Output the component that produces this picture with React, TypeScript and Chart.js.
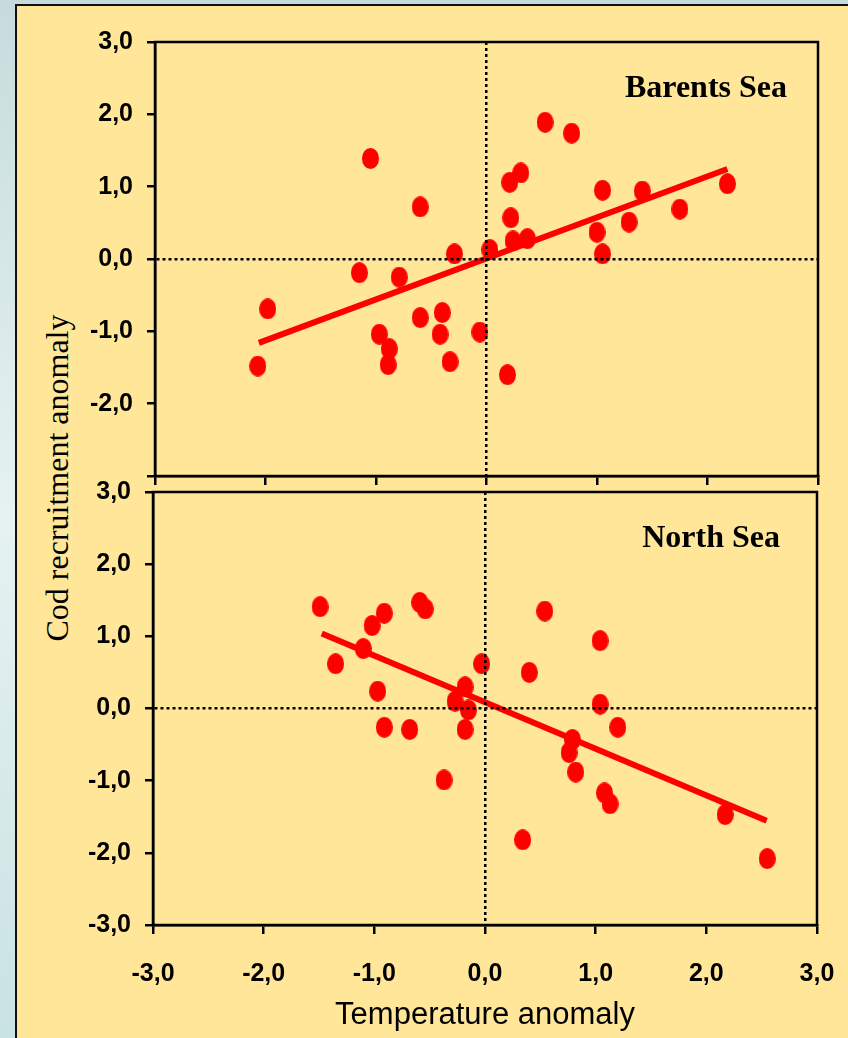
import React, { useEffect, useRef } from 'react';
import { Chart, registerables } from 'chart.js';

Chart.register(...registerables);

// Axis ticks shared by both panels (temperature and recruitment anomalies)
const tickValues = [-3, -2, -1, 0, 1, 2, 3];

// Barents Sea: temperature anomaly vs cod recruitment anomaly
const barentsTemp = [-2.07, -1.98, -1.05, -1.15, -0.79, -0.6, -0.97, -0.88, -0.89, -0.6, -0.4, -0.42, -0.33, -0.29, -0.06, 0.03, 0.19, 0.21, 0.31, 0.22, 0.24, 0.37, 0.53, 0.77, 1.05, 1.0, 1.05, 1.29, 1.41, 1.75, 2.18];
const barentsRecr = [-1.48, -0.69, 1.39, -0.19, -0.25, 0.72, -1.04, -1.24, -1.46, -0.81, -0.74, -1.04, -1.42, 0.07, -1.01, 0.13, -1.6, 1.06, 1.19, 0.57, 0.25, 0.28, 1.89, 1.74, 0.95, 0.37, 0.07, 0.51, 0.94, 0.69, 1.04];
const barentsFitTemp = [-2.06, 2.18];
const barentsFitRecr = [-1.16, 1.245];

// North Sea: temperature anomaly vs cod recruitment anomaly
const northTemp = [-1.49, -0.91, -1.02, -1.1, -1.35, -0.97, -0.59, -0.54, -0.03, -0.18, -0.27, -0.15, -0.91, -0.68, -0.18, -0.37, 0.54, 1.04, 0.4, 1.04, 1.2, 0.79, 0.76, 0.82, 1.08, 1.13, 0.34, 2.17, 2.55];
const northRecr = [1.41, 1.32, 1.15, 0.83, 0.62, 0.24, 1.47, 1.38, 0.62, 0.3, 0.1, -0.02, -0.26, -0.29, -0.29, -0.99, 1.35, 0.94, 0.5, 0.06, -0.26, -0.43, -0.61, -0.88, -1.17, -1.32, -1.82, -1.47, -2.08];
const northFitTemp = [-1.475, 2.545];
const northFitRecr = [1.04, -1.555];

const fmt = (v: number) => v.toFixed(1).replace('.', ',');

const AXIS_FONT = { family: '"Liberation Sans", Arial, sans-serif', size: 25, weight: 'bold' as const };
const RED = '#ff0000';

// Slightly tall oval marker used for every observation
function makeDot(color: string) {
  const c = document.createElement('canvas');
  c.width = 17;
  c.height = 21;
  const g = c.getContext('2d')!;
  g.fillStyle = color;
  g.beginPath();
  g.ellipse(8.5, 10.5, 8.5, 10.5, 0, 0, Math.PI * 2);
  g.fill();
  return c;
}

// Frame around the plot area plus the sea name in its upper right corner
const panelDecor = {
  id: 'panelDecor',
  afterDraw(chart: any, _args: any, opts: any) {
    const { ctx, chartArea: a } = chart;
    ctx.save();
    ctx.strokeStyle = '#000';
    ctx.lineWidth = 2.5;
    ctx.strokeRect(a.left, a.top, a.right - a.left, a.bottom - a.top);
    ctx.font = 'bold 32px "Liberation Serif", "Times New Roman", serif';
    ctx.fillStyle = '#000';
    ctx.textAlign = 'right';
    ctx.textBaseline = 'alphabetic';
    ctx.fillText(opts.text, a.right - opts.inset, a.top + opts.baseline);
    ctx.restore();
  },
};

interface PanelOpts {
  temps: number[];
  recr: number[];
  fitT: number[];
  fitR: number[];
  name: string;
  inset: number;
  padding: { left: number; right: number; top: number; bottom: number };
  yWidth: number;
  xHeight: number;
  xLabels: boolean;
  hideBottomY: boolean;
}

// keep the plot area exactly where layout.padding and the fixed axis sizes put it
const noLabelOverhang = (s: any) => {
  s.paddingLeft = 0;
  s.paddingRight = 0;
  s.paddingTop = 0;
  s.paddingBottom = 0;
};

function makeConfig(o: PanelOpts): any {
  const dot = makeDot(RED);
  const zeroColor = (ctx: any) => (ctx.tick && ctx.tick.value === 0 ? '#000' : 'rgba(0,0,0,0)');
  // grid (zero lines) sits above the markers; the axis line is drawn after it
  const gridOpts = (tickLength: number) => ({
    z: 1,
    color: zeroColor,
    lineWidth: 2.5,
    tickColor: '#000',
    tickWidth: 2.5,
    tickLength,
    tickBorderDash: [],
    drawOnChartArea: true,
    drawTicks: true,
  });
  const borderOpts = { display: true, color: '#000', width: 2.5, dash: [3, 3], z: 2 };
  return {
    type: 'scatter',
    data: {
      datasets: [
        {
          label: 'observations',
          data: o.temps.map((t, i) => ({ x: t, y: o.recr[i] })),
          pointStyle: dot,
          pointRadius: 9,
          backgroundColor: RED,
          borderColor: RED,
          order: 1,
        },
        {
          label: 'trend',
          data: o.fitT.map((t, i) => ({ x: t, y: o.fitR[i] })),
          showLine: true,
          pointRadius: 0,
          borderColor: RED,
          borderWidth: 6,
          order: 2,
        },
      ],
    },
    options: {
      responsive: false,
      animation: false,
      layout: { padding: o.padding },
      plugins: {
        legend: { display: false },
        tooltip: { enabled: false },
        panelDecor: { text: o.name, inset: o.inset, baseline: 55 },
      },
      scales: {
        x: {
          type: 'linear',
          min: -3,
          max: 3,
          afterBuildTicks: (s: any) => {
            s.ticks = tickValues.map((v) => ({ value: v }));
          },
          afterFit: (s: any) => {
            s.height = o.xHeight;
            noLabelOverhang(s);
          },
          ticks: {
            callback: (v: number) => (o.xLabels ? fmt(v) : ''),
            font: AXIS_FONT,
            color: '#000',
            padding: 25,
            maxRotation: 0,
            autoSkip: false,
          },
          grid: gridOpts(9),
          border: borderOpts,
          title: {
            display: o.xLabels,
            text: 'Temperature anomaly',
            color: '#000',
            font: { family: '"Liberation Sans", Arial, sans-serif', size: 31, weight: 'normal' },
            padding: { top: 0, bottom: 4 },
          },
        },
        y: {
          type: 'linear',
          min: -3,
          max: 3,
          afterBuildTicks: (s: any) => {
            s.ticks = tickValues.map((v) => ({ value: v }));
          },
          afterFit: (s: any) => {
            s.width = o.yWidth;
            noLabelOverhang(s);
          },
          ticks: {
            callback: (v: number) => (o.hideBottomY && v === -3 ? '' : fmt(v)),
            font: AXIS_FONT,
            color: '#000',
            padding: 14,
          },
          grid: gridOpts(8),
          border: borderOpts,
        },
      },
    },
    plugins: [panelDecor],
  };
}

export default function App() {
  const topRef = useRef<HTMLCanvasElement>(null);
  const botRef = useRef<HTMLCanvasElement>(null);

  useEffect(() => {
    const top = new Chart(
      topRef.current!,
      makeConfig({
        temps: barentsTemp,
        recr: barentsRecr,
        fitT: barentsFitTemp,
        fitR: barentsFitRecr,
        name: 'Barents Sea',
        inset: 31,
        padding: { left: 0, right: 30, top: 42, bottom: 0 },
        yWidth: 155,
        xHeight: 14,
        xLabels: false,
        hideBottomY: true,
      })
    );
    const bot = new Chart(
      botRef.current!,
      makeConfig({
        temps: northTemp,
        recr: northRecr,
        fitT: northFitTemp,
        fitR: northFitRecr,
        name: 'North Sea',
        inset: 37,
        padding: { left: 0, right: 31, top: 32, bottom: 0 },
        yWidth: 153,
        xHeight: 113,
        xLabels: true,
        hideBottomY: false,
      })
    );
    return () => {
      top.destroy();
      bot.destroy();
    };
  }, []);

  return (
    <div
      style={{
        position: 'absolute',
        left: 0,
        top: 0,
        width: 848,
        height: 1038,
        overflow: 'hidden',
        background: 'linear-gradient(to bottom, #c6dcdc 0%, #e6f2f2 50%, #c9e2e2 100%)',
      }}
    >
      <div
        style={{
          position: 'absolute',
          left: 15,
          top: 4,
          width: 860,
          height: 1060,
          border: '2px solid #111',
          background: '#ffe699',
        }}
      />
      <div
        style={{
          position: 'absolute',
          left: 57,
          top: 478,
          transform: 'translate(-50%, -50%) rotate(-90deg)',
          whiteSpace: 'nowrap',
          font: '32px "Liberation Serif", "Times New Roman", serif',
          color: '#000',
        }}
      >
        Cod recruitment anomaly
      </div>
      <canvas
        ref={topRef}
        width={848}
        height={490}
        style={{ position: 'absolute', left: 0, top: 0, width: 848, height: 490 }}
      />
      <canvas
        ref={botRef}
        width={848}
        height={578}
        style={{ position: 'absolute', left: 0, top: 460, width: 848, height: 578 }}
      />
    </div>
  );
}
